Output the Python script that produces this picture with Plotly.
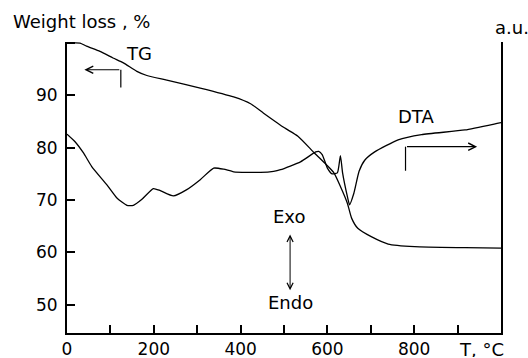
import plotly.graph_objects as go

# ---- data ----
tg_temp = [0, 30, 45, 76, 106, 130, 161, 184, 230, 307, 384, 423, 453, 501, 532,
           570, 597, 615, 630, 646, 656, 670, 701, 740, 801, 917, 1000]
tg_weight = [100.0, 100.0, 99.4, 98.4, 97.15, 96.2, 94.6, 93.8, 92.9, 91.4, 89.7, 88.4, 86.6, 83.8, 82.2,
             79.0, 76.8, 75.2, 72.6, 69.4, 66.5, 64.6, 63.0, 61.6, 61.1, 60.9, 60.8]

dta_temp = [0, 18, 38, 57, 92, 115, 138, 153, 172, 199, 215, 245, 276, 307, 338, 361, 384,
            446, 476, 492, 538, 573, 580, 588, 600, 611, 623, 630, 635, 646, 651, 661, 673,
            686, 709, 763, 817, 917, 994, 1000]
dta_signal = [82.6, 81.2, 79.0, 76.4, 72.9, 70.4, 69.0, 69.0, 70.1, 72.2, 71.8, 70.8, 72.0, 73.9, 76.1, 75.9, 75.4,
              75.3, 75.5, 75.8, 77.3, 79.2, 79.3, 78.7, 76.1, 75.0, 75.2, 78.5, 75.2, 70.7, 69.1, 71.3, 75.5,
              77.6, 79.2, 81.5, 82.5, 83.4, 84.7, 84.8]

x_tickvals = [0, 100, 200, 300, 400, 500, 600, 700, 800, 900]
x_ticktext = ["0", "", "200", "", "400", "", "600", "", "800", ""]
y_tickvals = [50, 60, 70, 80, 90, 100]
y_ticktext = ["50", "60", "70", "80", "90", ""]

# annotation anchor points (data coordinates)
tg_arrow = dict(x0=124, y_low=91.5, y_high=94.9, x_tip=40)
dta_arrow = dict(x0=780, y_low=75.6, y_high=80.2, x_tip=945)
exo_arrow = dict(x=514, y_top=63.4, y_bot=52.5)

FONT = "DejaVu Sans"
fs = 17
fs_lab = 18

fig = go.Figure()
fig.add_trace(go.Scatter(x=tg_temp, y=tg_weight, mode="lines", line=dict(color="black", width=1.3, shape="spline", smoothing=0.6), showlegend=False))
fig.add_trace(go.Scatter(x=dta_temp, y=dta_signal, mode="lines", line=dict(color="black", width=1.3, shape="spline", smoothing=0.5), showlegend=False))

shapes = [
    dict(type="line", xref="x", yref="y", x0=tg_arrow["x0"], x1=tg_arrow["x0"], y0=tg_arrow["y_low"], y1=tg_arrow["y_high"], line=dict(color="black", width=1.2)),
    dict(type="line", xref="x", yref="y", x0=dta_arrow["x0"], x1=dta_arrow["x0"], y0=dta_arrow["y_low"], y1=dta_arrow["y_high"], line=dict(color="black", width=1.2)),
]

def txt(x, y, s, **kw):
    d = dict(x=x, y=y, xref="x", yref="y", text=s, showarrow=False, font=dict(family=FONT, size=fs_lab, color="black"))
    d.update(kw)
    return d

ann = [
    dict(x=tg_arrow["x_tip"], y=tg_arrow["y_high"], ax=tg_arrow["x0"], ay=tg_arrow["y_high"], axref="x", ayref="y", xref="x", yref="y",
         showarrow=True, arrowhead=5, arrowsize=1.2, arrowwidth=1.2, arrowcolor="black", text=""),
    dict(x=dta_arrow["x_tip"], y=dta_arrow["y_high"], ax=dta_arrow["x0"], ay=dta_arrow["y_high"], axref="x", ayref="y", xref="x", yref="y",
         showarrow=True, arrowhead=5, arrowsize=1.2, arrowwidth=1.2, arrowcolor="black", text=""),
    dict(x=exo_arrow["x"], y=exo_arrow["y_top"], ax=exo_arrow["x"], ay=exo_arrow["y_bot"], axref="x", ayref="y", xref="x", yref="y",
         showarrow=True, arrowhead=5, startarrowhead=5, arrowside="end+start", arrowsize=1.2, startarrowsize=1.2, arrowwidth=1, arrowcolor="black", text=""),
    txt(166, 98.0, "TG"),
    txt(805, 85.9, "DTA"),
    txt(511, 66.8, "Exo"),
    txt(514, 50.4, "Endo"),
    dict(x=-0.128, y=1.07, xref="paper", yref="paper", xanchor="left", yanchor="middle", text="Weight loss , %", showarrow=False, font=dict(family=FONT, size=fs_lab, color="black")),
    dict(x=1.025, y=1.05, xref="paper", yref="paper", xanchor="center", yanchor="middle", text="a.u.", showarrow=False, font=dict(family=FONT, size=fs_lab, color="black")),
    dict(x=0.955, y=-0.055, xref="paper", yref="paper", xanchor="center", yanchor="middle", height=16, text="T, °C", showarrow=False, font=dict(family=FONT, size=fs_lab, color="black")),
]

fig.update_layout(
    width=528, height=358,
    margin=dict(l=67, r=27, t=42, b=25, autoexpand=False),
    paper_bgcolor="white", plot_bgcolor="white",
    font=dict(family=FONT, size=fs, color="black"),
    shapes=shapes, annotations=ann,
    xaxis=dict(range=[0, 1000], showgrid=False, zeroline=False, showline=True, linewidth=2, linecolor="black",
               ticks="inside", ticklen=8, tickwidth=2, tickcolor="black", automargin=False,
               tickmode="array", tickvals=x_tickvals, ticktext=x_ticktext, ticklabelstandoff=0),
    yaxis=dict(range=[44.6, 100.2], showgrid=False, zeroline=False, showline=True, linewidth=2, linecolor="black", mirror=True,
               ticks="inside", ticklen=8, tickwidth=2, tickcolor="black", automargin=False,
               tickmode="array", tickvals=y_tickvals, ticktext=y_ticktext, ticklabelstandoff=4),
)

fig.write_html("out.html")
